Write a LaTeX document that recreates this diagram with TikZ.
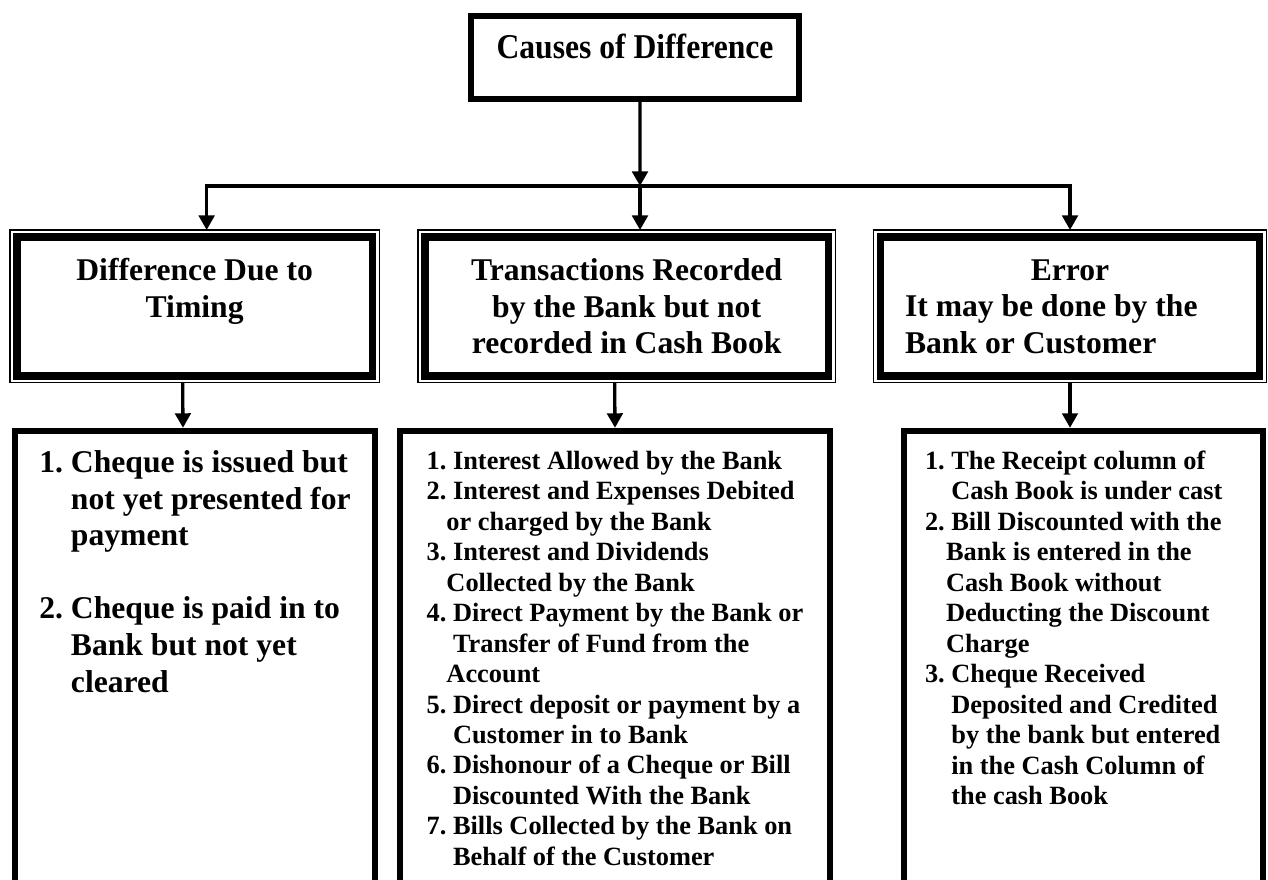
\documentclass[tikz,border=0pt]{standalone}
\usepackage{fontspec}
\setmainfont{Liberation Serif}
\usepackage{graphicx}
\usetikzlibrary{positioning}
\usetikzlibrary{arrows.meta}
\frenchspacing

\begin{document}
\begin{tikzpicture}[x=0.2mm, y=0.2mm,
			rootbox/.style={draw, rectangle, line width=1.14mm, minimum width=65.66mm, minimum height=16.66mm, font=\bfseries\fontsize{18}{21}\selectfont},
			internal/.style={draw, rectangle, line width=1.5mm, outer sep=1.38mm, minimum height=27.8mm, align=center, font=\bfseries\fontsize{18}{20.8}\selectfont},
			items/.style={draw, rectangle, line width=1.2mm, anchor=north, inner sep=4mm, align=left, text depth=100mm},
			link/.style={draw, line width=0.66mm, -{Triangle[width=3.1mm, length=2.9mm]}}]
	\useasboundingbox (0, 0) rectangle (1268, 879);
	\clip (0, 0) rectangle (1268, 879);

	\node[rootbox, text height=4.8mm, text depth=4.4mm](node1) at (635, 821.5) {\scalebox{1}[1.1]{Causes of Difference}};
	\coordinate (split) at (640, 693);

	\node[internal, minimum width=71.12mm](node2) at (194.65, 572.6) {Difference Due to\\Timing\\\mbox{}};
	\node[internal, minimum width=80.72mm](node3) at (626.65, 572.6) {Transactions Recorded\\by the Bank but not\\recorded in Cash Book};
	\node[internal, minimum width=75.78mm, text width=66mm, align=flush left](node4) at (1070, 572.6) {\makebox[\linewidth]{Error}\\It may be done by the\\Bank or Customer};
	\foreach \n in {node2, node3, node4}
		\draw[line width=0.26mm] (\n.south west) rectangle (\n.north east);

	\draw[link] ([xshift=1mm]node1.south) -- (split);
	\draw[link] (split) -| ([xshift=2.4mm]node2.north);
	\draw[link] (split) -- (split |- node3.north);
	\draw[link] (split) -| (node4.north);

	\node[items, minimum width=72mm, font=\bfseries\fontsize{18}{20.8}\selectfont](node21) at (195, 451.2) {1. Cheque is issued but\\\hspace*{1em}not yet presented for\\\hspace*{1em}payment\\\mbox{}\\2. Cheque is paid in to\\\hspace*{1em}Bank but not yet\\\hspace*{1em}cleared};
	\node[items, minimum width=86mm, font=\bfseries\fontsize{15}{17.35}\selectfont](node31) at (615, 451.2) {1. Interest Allowed by the Bank\\2. Interest and Expenses Debited\\\hspace*{.75em}or charged by the Bank\\3. Interest and Dividends\\\hspace*{.75em}Collected by the Bank\\4. Direct Payment by the Bank or\\\hspace*{1em}Transfer of Fund from the\\\hspace*{.75em}Account\\5. Direct deposit or payment by a\\\hspace*{1em}Customer in to Bank\\6. Dishonour of a Cheque or Bill\\\hspace*{1em}Discounted With the Bank\\7. Bills Collected by the Bank on\\\hspace*{1em}Behalf of the Customer};
	\node[items, inner xsep=4.3mm, text width=63.3mm, align=flush left, font=\bfseries\fontsize{15}{17.35}\selectfont](node41) at (1083.25, 451.2) {1. The Receipt column of\\\hspace*{1em}Cash Book is under cast\\2. Bill Discounted with the\\\hspace*{.8em}Bank is entered in the\\\hspace*{.8em}Cash Book without\\\hspace*{.8em}Deducting the Discount\\\hspace*{.8em}Charge\\3. Cheque Received\\\hspace*{1em}Deposited and Credited\\\hspace*{1em}by the bank but entered\\\hspace*{1em}in the Cash Column of\\\hspace*{1em}the cash Book};

	\draw[link] ([xshift=-2.4mm]node2.south) -- ([xshift=-2.4mm]node21.north);
	\draw[link] ([xshift=-2.4mm]node3.south) -- (node31.north);
	\draw[link] (node4.south) -- (node4.south |- node41.north);
\end{tikzpicture}
\end{document}
